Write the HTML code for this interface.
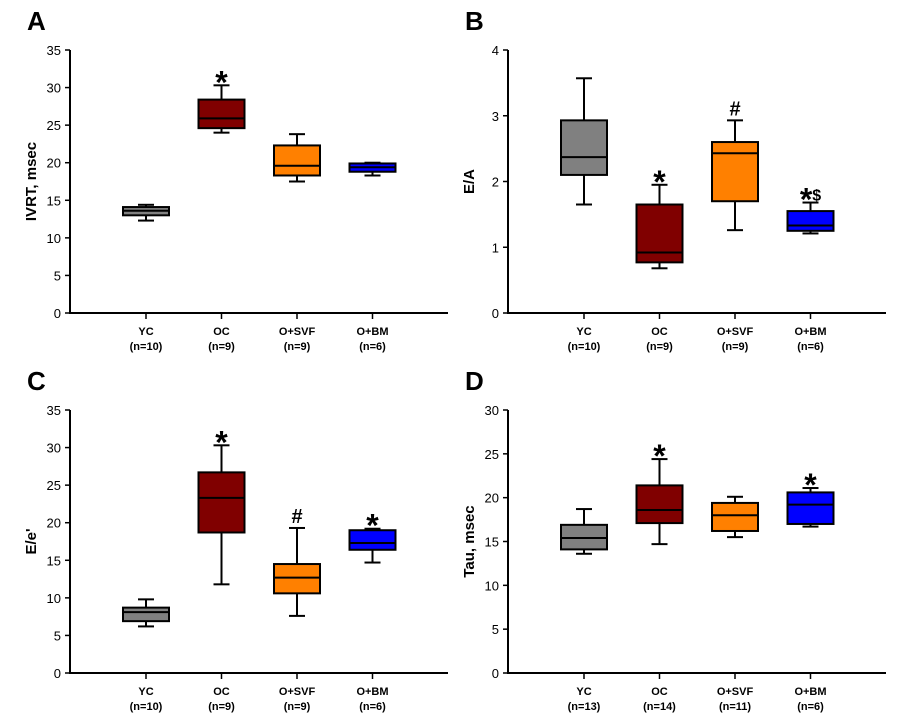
<!DOCTYPE html>
<html><head><meta charset="utf-8"><style>
body{margin:0;background:#fff;}
svg{display:block;font-family:"Liberation Sans",Arial,sans-serif;}
</style></head><body>
<svg id="fig" width="911" height="715" viewBox="0 0 911 715"></svg>
<script>
const groups = ["YC","OC","O+SVF","O+BM"];
const colors = ["#808080","#800000","#ff8000","#0000ff"];
const nA = ["(n=10)","(n=9)","(n=9)","(n=6)"];
const nD = ["(n=13)","(n=14)","(n=11)","(n=6)"];
// [min, q1, median, q3, max]
const ivrt = [[12.3,13,13.6,14.1,14.4],[24,24.6,25.9,28.4,30.3],[17.5,18.3,19.6,22.3,23.8],[18.3,18.8,19.4,19.9,20]];
const ea = [[1.65,2.1,2.37,2.93,3.57],[0.68,0.77,0.92,1.65,1.95],[1.26,1.7,2.43,2.6,2.93],[1.21,1.25,1.33,1.55,1.68]];
const ee = [[6.2,6.9,8.1,8.7,9.8],[11.8,18.7,23.3,26.7,30.3],[7.6,10.6,12.7,14.5,19.3],[14.7,16.4,17.3,19,19.2]];
const tau = [[13.6,14.1,15.4,16.9,18.7],[14.7,17.1,18.6,21.4,24.4],[15.5,16.2,18,19.4,20.1],[16.7,17,19.2,20.6,21.1]];
const marksA = ["","*","",""];
const marksB = ["","*","#","*$"];
const marksC = ["","*","#","*"];
const marksD = ["","*","","*"];
const ticksA = [0,5,10,15,20,25,30,35];
const ticksB = [0,1,2,3,4];
const ticksD = [0,5,10,15,20,25,30];

const NS="http://www.w3.org/2000/svg";
const svg=document.getElementById('fig');
function mk(tag,attrs,parent,text){const e=document.createElementNS(NS,tag);for(const k in attrs)e.setAttribute(k,attrs[k]);if(text!==undefined)e.textContent=text;(parent||svg).appendChild(e);return e;}

function panel(letter,ox,oy,ymax,ticks,data,marks,ns,ytitle){
  const g=mk('g',{});
  
  
  const ax=ox, y0=oy+263, yTop=oy, xEnd=ox+378;
  const ys=v=>y0-(v/ymax)*(y0-yTop);
  const cx=i=>ax+76+i*75.5;
  const L=mk('text',{x:ax-43,y:oy-20,'font-size':26,'font-weight':'bold'},g,letter);
  
  
  const yaxis=mk('line',{x1:ax,y1:yTop,x2:ax,y2:y0+1,stroke:'#000','stroke-width':2},g);
  
  
  const xaxis=mk('line',{x1:ax-1,y1:y0,x2:xEnd,y2:y0,stroke:'#000','stroke-width':2},g);
  
  
  ticks.forEach(t=>{
    mk('line',{x1:ax-5,y1:ys(t),x2:ax,y2:ys(t),stroke:'#000','stroke-width':1.5},g);
    const tl=mk('text',{x:ax-9,y:ys(t)+5,'font-size':13,'text-anchor':'end'},g,t);
    
    
  });
  const yt=mk('text',{transform:`translate(${ax-34},${(y0+yTop)/2}) rotate(-90)`,'font-size':15,'font-weight':'bold','text-anchor':'middle'},g,ytitle);
  
  
  data.forEach((d,i)=>{
    const x=cx(i), w=46, cw=16;
    mk('line',{x1:x,y1:y0,x2:x,y2:y0+6,stroke:'#000','stroke-width':1.5},g);
    const c1=mk('text',{x:x,y:y0+22,'font-size':11,'font-weight':'bold','text-anchor':'middle'},g,groups[i]);
    
    
    const c2=mk('text',{x:x,y:y0+37,'font-size':11,'font-weight':'bold','text-anchor':'middle'},g,ns[i]);
    
    
    const bg=mk('g',{stroke:'#000','stroke-width':2},g);
    
    
    mk('line',{x1:x,y1:ys(d[0]),x2:x,y2:ys(d[1])},bg);
    mk('line',{x1:x,y1:ys(d[3]),x2:x,y2:ys(d[4])},bg);
    mk('line',{x1:x-cw/2,y1:ys(d[0]),x2:x+cw/2,y2:ys(d[0])},bg);
    mk('line',{x1:x-cw/2,y1:ys(d[4]),x2:x+cw/2,y2:ys(d[4])},bg);
    mk('rect',{x:x-w/2,y:ys(d[3]),width:w,height:Math.max(ys(d[1])-ys(d[3]),1),fill:colors[i]},bg);
    mk('line',{x1:x-w/2,y1:ys(d[2]),x2:x+w/2,y2:ys(d[2])},bg);
    if(marks[i]){
      const m=marks[i];
      const mt=mk('text',{x:x,y:ys(d[4])+8,'font-size':32,'font-weight':'bold','text-anchor':'middle'},g);
      if(m==='*$'){mk('tspan',{},mt,'*');mk('tspan',{'font-size':16,dy:-10},mt,'$');}
      else if(m==='*'){mt.textContent='*';}
      else {mt.setAttribute('font-size',20);mt.setAttribute('y',ys(d[4])-5);mt.textContent=m;}
      
      
    }
  });
}
panel('A',70,50,35,ticksA,ivrt,marksA,nA,'IVRT, msec');
panel('B',508,50,4,ticksB,ea,marksB,nA,'E/A');
panel('C',70,410,35,ticksA,ee,marksC,nA,"E/e'");
panel('D',508,410,30,ticksD,tau,marksD,nD,'Tau, msec');
</script>
</body></html>
